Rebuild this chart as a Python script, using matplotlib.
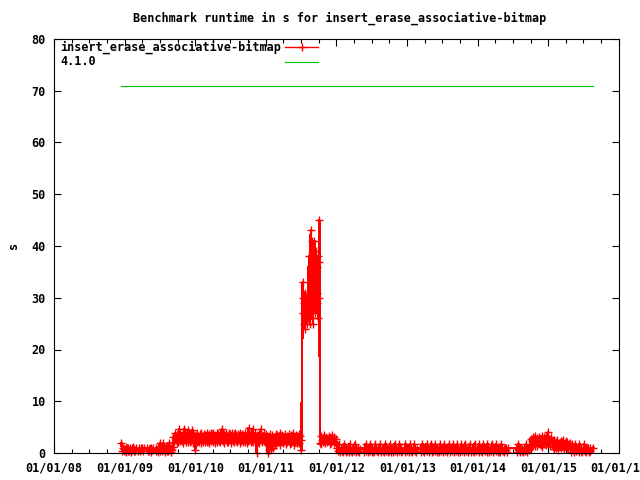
import matplotlib
matplotlib.use("Agg")
import matplotlib.pyplot as plt
import matplotlib.dates as mdates
import pandas as pd

# Benchmark runs, split into blocks of regular runs:
# (first run date, days between runs, runtimes in s)
runs_2008_a = ("2008-12-15", 3.5, [1.9, 0.4, 1.0, 0.3, 0.8, 0.5, 1.1, 0.2, 0.9, 0.4,
                                   1.0, 0.3, 0.7, 1.0, 0.2, 0.9, 0.5, 1.1, 0.3, 0.8,
                                   0.4, 1.0])
runs_2009_a = ("2009-03-13", 3.5, [0.4, 1.0, 0.3, 0.9])
runs_2009_b = ("2009-04-01", 3.5, [0.9, 0.3, 1.0])
runs_2009_c = ("2009-04-27", 3.5, [1.0, 0.3, 0.8, 0.4, 1.0, 0.2, 0.9, 0.5, 1.0])
runs_2009_d = ("2009-06-10", 3.5, [0.3, 1.0, 0.5, 0.9, 0.2, 1.0])
runs_2009_e = ("2009-07-01", 3.5, [1.9, 0.4, 1.1, 0.3, 0.8, 1.9, 0.5, 1.0, 0.2, 0.9,
                                   0.4, 1.1, 0.3, 1.9, 0.6, 1.0, 0.2, 0.8, 0.5, 1.1])
runs_2009_f = ("2009-09-10", 3.5, [
    3.0, 2.2, 3.8, 2.5, 3.3, 2.0, 3.6, 2.1, 4.6, 2.4,
    3.9, 2.8, 2.3, 3.5, 2.0, 3.1, 4.7, 2.6, 3.4, 2.2,
    3.7, 2.2, 4.5, 2.9, 2.1, 3.6, 2.4, 3.2, 4.4, 2.0,
    3.5, 2.3, 0.6, 3.4, 2.1, 3.9, 2.4, 3.0, 2.2, 3.7,
    2.0, 3.8, 2.5, 3.3, 2.1, 3.7, 2.2, 3.5, 2.6, 2.1,
    3.9, 2.4, 3.6, 2.0, 3.2, 3.8, 2.3, 3.7, 2.1, 3.9,
    2.5, 3.5, 2.0, 3.1, 3.8, 2.2, 3.6, 2.4, 3.9, 2.1,
    3.4, 2.6, 4.6, 2.3, 3.7, 2.0, 3.3, 2.7, 3.8, 2.1,
    3.4, 2.2, 3.9, 2.5, 3.6, 2.0, 3.2, 3.8, 2.3, 3.7,
    2.1, 3.9, 2.4, 3.5, 2.2, 3.7, 2.6, 3.1, 2.0, 3.8,
    2.3, 3.6, 2.1, 3.4, 2.5, 3.9, 2.2, 3.3, 2.0, 3.5,
    2.3, 4.8, 2.6, 3.5, 2.1, 3.6, 2.4, 4.7, 2.2, 3.1,
    3.8, 2.3, 2.9, 0.0, 3.5, 2.2, 2.0, 3.9, 2.6, 4.7,
    3.4, 2.1, 3.0, 2.4, 3.8, 2.2, 3.6, 2.0, 3.3, 0.0,
    2.5, 0.5, 3.7, 2.2, 0.8, 3.5, 2.4, 1.0, 3.1, 2.0,
    2.0, 3.6, 1.5, 3.4, 2.2, 2.9, 2.1, 3.8, 1.6, 3.2,
    2.4, 3.5, 1.9, 3.0, 2.6, 3.7, 1.7, 3.3, 2.1, 2.8,
    2.3, 3.6, 1.8, 3.4, 2.0, 3.1, 2.5, 3.8, 1.6, 3.0,
    2.2, 3.5, 1.9, 3.3, 2.4, 3.7, 2.0, 3.2, 2.6, 0.5])
runs_2011_spike = ("2011-07-10", 2, [
    33, 27, 30, 25, 29, 24, 31, 28, 26, 30,
    25, 28, 27, 30, 26, 29, 38, 27, 31, 25,
    29, 43, 28, 33, 26, 41, 30, 25, 35, 28,
    41, 30, 37, 27, 39, 33, 29, 36, 31, 38,
    26, 37, 30, 45])
runs_2011_b = ("2011-10-08", 3.5, [2.0, 3.2, 1.8, 2.6, 2.9, 2.2, 3.4, 1.9, 2.5, 3.0,
                                   2.1, 2.8, 2.4, 3.3, 1.7, 2.9, 2.0, 3.5, 2.3, 2.7,
                                   1.9, 3.0, 2.2, 2.8])
runs_2012_a = ("2012-01-06", 3.5, [
    0.9, 0.3, 1.7, 0.6, 0.2, 1.0, 0.4, 0.8, 0.1, 1.0,
    1.8, 0.5, 0.2, 0.9, 0.3, 1.1, 0.6, 0.2, 1.7, 0.8,
    0.3, 1.0, 0.1, 0.7, 0.4, 1.0, 1.8, 0.2, 0.9, 0.5,
    0.3, 1.0, 0.2, 0.8])
runs_2012_b = ("2012-05-20", 3.5, [
    1.0, 0.2, 0.7, 1.8, 0.4, 0.9, 0.1, 1.0, 0.5, 0.3,
    1.7, 0.8, 0.2, 1.0, 0.4, 0.9, 0.1, 1.8, 0.6, 1.0,
    0.3, 0.8, 0.2, 1.0, 1.7, 0.5, 0.1, 0.9, 0.4, 1.0,
    0.2, 0.7, 1.8, 0.3, 1.0, 0.6, 0.1, 0.9, 0.4, 1.7,
    1.0, 0.2, 0.8, 0.5, 0.1, 1.0, 1.8, 0.3, 0.9, 0.6,
    0.2, 1.0, 0.4, 1.7, 0.8, 0.1, 1.0, 0.3])
runs_2012_c = ("2012-12-15", 3.5, [
    1.0, 0.2, 1.8, 0.6, 0.9, 0.3, 1.0, 0.1, 0.8, 1.7,
    0.4, 1.0, 0.2, 0.9, 0.5, 1.8, 0.3, 1.0, 0.1, 0.7])
runs_2013_a = ("2013-03-10", 3.5, [
    1.0, 0.2, 0.8, 1.8, 0.4, 1.0, 0.1, 0.9, 0.5, 1.7,
    0.3, 1.0, 0.2, 0.8, 0.6, 1.0, 1.8, 0.1, 0.9, 0.4,
    1.0, 0.3, 1.7, 0.7, 0.2, 1.0, 0.5, 0.9, 0.1, 1.8,
    1.0, 0.4, 0.8, 0.2, 1.0, 1.7, 0.6, 0.3, 0.9, 0.1,
    1.0, 0.5, 1.8, 0.8, 0.2, 1.0, 0.4, 0.9, 1.7, 0.1,
    1.0, 0.6, 0.3, 0.8, 1.8, 0.2, 1.0, 0.5, 0.9, 0.1,
    1.7, 1.0, 0.4, 0.7, 0.2, 1.0, 1.8, 0.3, 0.9, 0.6,
    0.1, 1.0, 0.5, 1.7, 0.8, 0.2, 1.0, 0.4, 0.9, 0.1,
    1.8, 1.0, 0.3, 0.7, 0.6, 1.0, 0.2, 1.7, 0.9, 0.4,
    1.0, 0.1, 0.8, 1.8, 0.5, 1.0, 0.3, 0.9, 0.2, 1.7,
    1.0, 0.6, 0.1, 0.8, 0.4, 1.0, 1.8, 0.2, 0.9, 0.5,
    1.0, 0.3, 1.7, 0.7, 0.1, 1.0, 0.4, 0.9, 0.2, 1.8,
    0.6, 1.0, 0.3, 0.8, 0.1, 1.0, 0.5, 0.9, 0.2, 1.0])
runs_2014_a = ("2014-07-19", 3.5, [
    1.0, 0.2, 0.8, 1.8, 0.5, 0.9, 0.1, 1.0, 0.4, 0.7,
    0.2, 1.0, 0.6, 0.3, 1.7, 0.9, 0.1, 1.0, 0.5, 0.8])
runs_2014_b = ("2014-09-28", 3.5, [
    1.5, 2.8, 1.2, 2.4, 3.0, 1.6, 2.0, 3.2, 1.4, 2.6,
    2.9, 1.3, 2.2, 3.1, 1.7, 2.5, 1.6, 3.3, 1.1, 2.4,
    3.0, 1.8, 2.7, 1.5, 3.2, 2.0, 4.0, 1.9, 2.8, 1.4,
    2.6, 3.0, 1.7, 2.3])
runs_2015_a = ("2015-01-25", 3.5, [
    1.2, 2.6, 0.8, 2.0, 2.2, 1.0, 2.5, 1.4, 0.6, 2.0,
    1.6, 2.4, 0.9, 2.1, 1.2, 2.5, 0.7, 1.9, 1.3, 2.3,
    1.0, 2.2, 0.8, 1.8, 1.4, 2.0])
runs_2015_b = ("2015-04-26", 3.5, [
    1.0, 0.2, 1.8, 0.6, 1.0, 0.1, 0.9, 1.7, 0.3, 1.0,
    0.5, 0.8, 0.2, 1.8, 1.0, 0.4, 0.9, 0.1, 1.0, 0.6,
    1.7, 0.3, 1.0, 0.2, 0.8, 0.5, 1.0, 0.1, 0.9, 0.4])
runs_2015_c = ("2015-08-20", 3.5, [1.0])

blocks = [runs_2008_a, runs_2009_a, runs_2009_b, runs_2009_c, runs_2009_d,
          runs_2009_e, runs_2009_f, runs_2011_spike, runs_2011_b, runs_2012_a,
          runs_2012_b, runs_2012_c, runs_2013_a, runs_2014_a, runs_2014_b,
          runs_2015_a, runs_2015_b, runs_2015_c]

# release marker line for 4.1.0
release_dates = ["2008-12-15", "2015-08-20"]
release_values = [71, 71]

bench_name = "insert_erase_associative-bitmap"
release_name = "4.1.0"

dates = []
values = []
for start, step, vals in blocks:
    dates.extend(pd.date_range(start, periods=len(vals), freq=pd.Timedelta(days=step)))
    values.extend(vals)

font = {"family": "DejaVu Sans Mono", "weight": "bold", "size": 8.45}
plt.rcParams["font.family"] = "DejaVu Sans Mono"
plt.rcParams["font.weight"] = "bold"
plt.rcParams["font.size"] = 8.45

red = "#ff0000"
green = "#00c000"

fig = plt.figure(figsize=(6.4, 4.8), dpi=100)
ax = fig.add_axes([54 / 640, 27 / 480, 565 / 640, 414 / 480])

ax.plot(dates, values, color=red, linewidth=1.1, marker="+",
        markersize=5.3, markeredgewidth=1.0, clip_on=False, antialiased=False)
ax.plot(pd.to_datetime(release_dates), release_values, color=green,
        linewidth=0.8)

ax.set_xlim(pd.Timestamp("2008-01-01"), pd.Timestamp("2016-01-01"))
ax.set_ylim(0, 80)
ax.set_yticks(range(0, 81, 10))
ax.xaxis.set_major_locator(mdates.YearLocator())
ax.xaxis.set_minor_locator(mdates.MonthLocator(bymonth=[4, 7, 10]))
ax.xaxis.set_major_formatter(mdates.DateFormatter("%m/%d/%y"))

ax.tick_params(which="both", direction="in", top=True, right=True, width=0.8)
ax.tick_params(which="major", length=5)
ax.tick_params(which="minor", length=3)
ax.tick_params(axis="x", pad=6)
ax.tick_params(axis="y", pad=6)
for s in ax.spines.values():
    s.set_linewidth(0.8)

fig.text(340 / 640, 1 - 18 / 480, "Benchmark runtime in s for " + bench_name,
         ha="center", va="center", fontdict=font)
fig.text(13 / 640, 1 - 245 / 480, "s", rotation=90, ha="center", va="center",
         fontdict=font)

# key, gnuplot style: left-aligned labels, sample to the right
tr = ax.transAxes
x_txt = 6 / 565
x0, x1 = 231 / 565, 264 / 565
rows = [1 - 8 / 414, 1 - 23 / 414]
ax.text(x_txt, rows[0], bench_name, transform=tr, ha="left", va="center", fontdict=font)
ax.text(x_txt, rows[1], release_name, transform=tr, ha="left", va="center", fontdict=font)
ax.plot([x0, x1], [rows[0], rows[0]], transform=tr, color=red, linewidth=1.0)
ax.plot([(x0 + x1) / 2], [rows[0]], transform=tr, color=red, marker="+",
        markersize=5.3, markeredgewidth=1.0)
ax.plot([x0, x1], [rows[1], rows[1]], transform=tr, color=green, linewidth=0.8)

fig.savefig("out.png", dpi=100)
